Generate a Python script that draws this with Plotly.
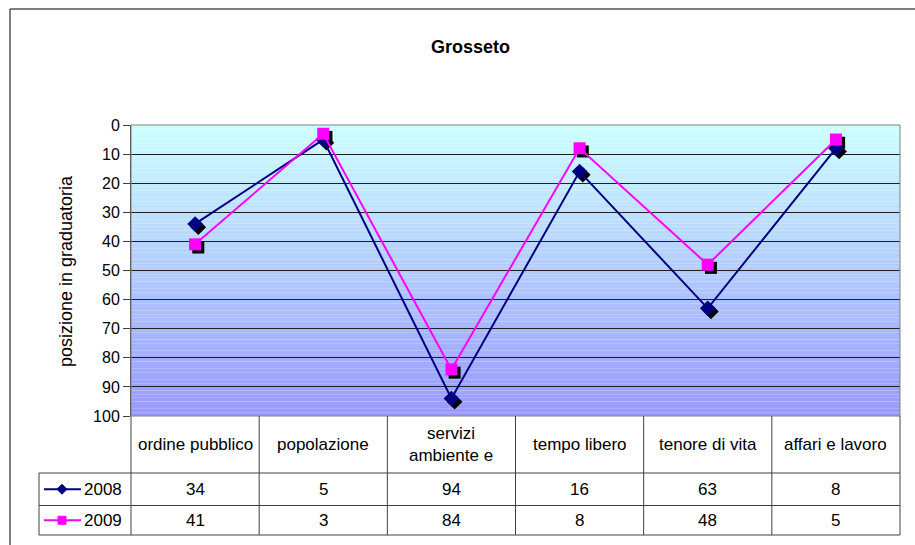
import plotly.graph_objects as go

# --- DATA ---
categories = ["ordine pubblico", "popolazione", "servizi<br>ambiente e",
              "tempo libero", "tenore di vita", "affari e lavoro"]
series_names = ["2008", "2009"]
values_2008 = [34, 5, 94, 16, 63, 8]
values_2009 = [41, 3, 84, 8, 48, 5]
y_ticks = [0, 10, 20, 30, 40, 50, 60, 70, 80, 90, 100]

# --- LAYOUT GEOMETRY (pixels) ---
W, H = 915, 545
L, R, T, B = 131, 15, 125, 129
pw = W - L - R
ph = H - T - B


def px_x(px):
    return (px - L) / pw


def px_y(py):
    return (H - B - py) / ph


FONT = "Liberation Sans, Arial, sans-serif"
colors = {"2008": "#000080", "2009": "#FF00FF"}
symbols = {"2008": "diamond", "2009": "square"}

x_pos = list(range(len(categories)))
fig = go.Figure()

# marker shadows (offset a little right/down)
for name, vals in zip(series_names, [values_2008, values_2009]):
    fig.add_trace(go.Scatter(
        x=[x + 0.025 for x in x_pos], y=[v + 1.1 for v in vals],
        mode="markers", showlegend=False, hoverinfo="skip",
        marker=dict(symbol=symbols[name], size=12, color="#000000")))

for name, vals in zip(series_names, [values_2008, values_2009]):
    fig.add_trace(go.Scatter(
        x=x_pos, y=vals, name=name, mode="lines+markers",
        line=dict(color=colors[name], width=2),
        marker=dict(symbol=symbols[name], size=12, color=colors[name])))

shapes = []

# gradient background for the plot area
top_rgb = (204, 255, 255)
bot_rgb = (153, 153, 255)
n_bands = 80
for i in range(n_bands):
    t = i / (n_bands - 1)
    c = tuple(round(top_rgb[k] + (bot_rgb[k] - top_rgb[k]) * t) for k in range(3))
    shapes.append(dict(type="rect", xref="x domain", yref="y domain",
                       x0=0, x1=1, y0=1 - (i + 1) / n_bands, y1=1 - i / n_bands,
                       fillcolor="rgb(%d,%d,%d)" % c, line=dict(width=0), layer="below"))

# plot area border (top / right)
shapes.append(dict(type="rect", xref="paper", yref="paper", x0=0, x1=1, y0=0, y1=1,
                   line=dict(color="#808080", width=1)))

# outer chart frame
shapes.append(dict(type="rect", xref="paper", yref="paper",
                   x0=px_x(10), x1=px_x(925), y0=px_y(555), y1=px_y(9),
                   line=dict(color="#000000", width=1)))

# data table
row_y = [px_y(416), px_y(473), px_y(505.5), px_y(535)]
tbl_left = px_x(39)
line_c = "#404040"
for i in range(len(categories) + 1):
    xv = px_x(L + i * pw / len(categories))
    shapes.append(dict(type="line", xref="paper", yref="paper",
                       x0=xv, x1=xv, y0=row_y[0], y1=row_y[3],
                       line=dict(color=line_c, width=1)))
for yv in row_y[1:]:
    shapes.append(dict(type="line", xref="paper", yref="paper",
                       x0=tbl_left, x1=1, y0=yv, y1=yv,
                       line=dict(color=line_c, width=1)))
shapes.append(dict(type="line", xref="paper", yref="paper",
                   x0=tbl_left, x1=tbl_left, y0=row_y[1], y1=row_y[3],
                   line=dict(color=line_c, width=1)))


def label(text, x, y, size=17, xanchor="center", **kw):
    return dict(text=text, x=x, y=y, xref="paper", yref="paper", showarrow=False,
                xanchor=xanchor, yanchor="middle",
                font=dict(family=FONT, size=size, color="#000000"), **kw)


annotations = [
    label("<b>Grosseto</b>", px_x(470), px_y(47), size=18),
    label("posizione in graduatoria", px_x(66), px_y(271), size=18, textangle=-90),
]

col_w = 1 / len(categories)
for i, cat in enumerate(categories):
    annotations.append(label(cat, (i + 0.5) * col_w, (row_y[0] + row_y[1]) / 2))

for r, (name, vals) in enumerate(zip(series_names, [values_2008, values_2009])):
    ymid = (row_y[r + 1] + row_y[r + 2]) / 2
    for i, v in enumerate(vals):
        annotations.append(label(str(v), (i + 0.5) * col_w, ymid))
    # legend key
    shapes.append(dict(type="line", xref="paper", yref="paper",
                       x0=px_x(44), x1=px_x(81), y0=ymid, y1=ymid,
                       line=dict(color=colors[name], width=2)))
    cx, cy = 62, (H - B) - ymid * ph
    if name == "2008":
        path = "M %f %f L %f %f L %f %f L %f %f Z" % (
            px_x(cx - 5), px_y(cy), px_x(cx), px_y(cy - 5),
            px_x(cx + 5), px_y(cy), px_x(cx), px_y(cy + 5))
        shapes.append(dict(type="path", xref="paper", yref="paper", path=path,
                           fillcolor=colors[name], line=dict(color=colors[name], width=1)))
    else:
        shapes.append(dict(type="rect", xref="paper", yref="paper",
                           x0=px_x(cx - 4), x1=px_x(cx + 4), y0=px_y(cy + 4), y1=px_y(cy - 4),
                           fillcolor=colors[name], line=dict(color=colors[name], width=1)))
    annotations.append(label(name, px_x(124), ymid, xanchor="right"))

fig.update_layout(
    width=W, height=H,
    margin=dict(l=L, r=R, t=T, b=B),
    paper_bgcolor="#FFFFFF",
    plot_bgcolor="rgba(0,0,0,0)",
    showlegend=False,
    font=dict(family=FONT, size=15, color="#000000"),
    shapes=shapes,
    annotations=annotations,
    xaxis=dict(range=[-0.5, len(categories) - 0.5], showticklabels=False, showgrid=False,
               zeroline=False, ticks="", fixedrange=True),
    yaxis=dict(range=[100, 0], tickvals=y_ticks, ticks="outside", ticklen=7,
               tickcolor="#404040", showline=True, linecolor="#404040", linewidth=1,
               showgrid=True, gridcolor="#202020", gridwidth=1, zeroline=False,
               tickfont=dict(family=FONT, size=16, color="#000000")),
)

fig.write_html("out.html", config={"displayModeBar": False},
               post_script="document.body.style.margin='0';")
